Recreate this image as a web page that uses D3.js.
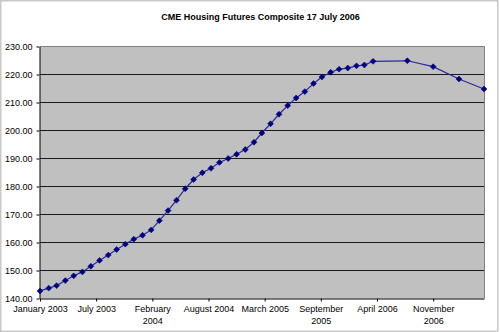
<!DOCTYPE html>
<html>
<head>
<meta charset="utf-8">
<script src="https://cdn.jsdelivr.net/npm/d3@7"></script>
<style>
  html, body { margin: 0; padding: 0; background: #fff; }
  svg { display: block; }
  text { font-family: "Liberation Sans", Arial, sans-serif; fill: #000; }
</style>
</head>
<body>
<svg id="chart" width="500" height="332"></svg>
<script>
// Composite index: monthly history, then quarterly futures settlements
const months = [
  "2003-01","2003-02","2003-03","2003-04","2003-05","2003-06","2003-07","2003-08","2003-09","2003-10","2003-11","2003-12",
  "2004-01","2004-02","2004-03","2004-04","2004-05","2004-06","2004-07","2004-08","2004-09","2004-10","2004-11","2004-12",
  "2005-01","2005-02","2005-03","2005-04","2005-05","2005-06","2005-07","2005-08","2005-09","2005-10","2005-11","2005-12",
  "2006-01","2006-02","2006-03","2006-04",
  "2006-08","2006-11","2007-02","2007-05"
];
const values = [
  142.7, 143.7, 144.6, 146.4, 148.1, 149.5, 151.5, 153.6, 155.5, 157.5, 159.4, 161.2,
  162.6, 164.5, 167.8, 171.4, 175.1, 179.2, 182.5, 184.9, 186.5, 188.6, 190.0, 191.5,
  193.2, 195.8, 199.1, 202.4, 205.8, 208.9, 211.6, 213.9, 216.8, 219.1, 220.8, 221.9,
  222.3, 223.1, 223.4, 224.7,
  224.9, 222.8, 218.4, 214.8
];
const yTicks = [140, 150, 160, 170, 180, 190, 200, 210, 220, 230];
const xTickLabels = [
  "January 2003", "July 2003", "February 2004", "August 2004",
  "March 2005", "September 2005", "April 2006", "November 2006"
];
const title = "CME Housing Futures Composite 17 July 2006";

const W = 500, H = 332;
const plot = { left: 40, right: 484, top: 46.5, bottom: 298.5 };

const parseMonth = d3.utcParse("%Y-%m");
const data = months.map((m, i) => ({ date: parseMonth(m), value: values[i] }));

const startDate = data[0].date;
const endDate = data[data.length - 1].date;

const x = d3.scaleUtc().domain([startDate, endDate]).range([plot.left, plot.right]);
const y = d3.scaleLinear().domain([140, 230]).range([plot.bottom, plot.top]);

// date axis: major unit of 200 days from the first date
const xTickDates = xTickLabels.map((_, i) => d3.utcDay.offset(startDate, 200 * i));

const svg = d3.select("#chart");

// chart area frame
svg.append("rect")
  .attr("x", 0.75).attr("y", 0.75)
  .attr("width", W - 3).attr("height", H - 1.5)
  .attr("fill", "#fff")
  .attr("stroke", "#c8c8c8")
  .attr("stroke-width", 1.5);

// title
svg.append("text")
  .attr("x", 260.5).attr("y", 19.5)
  .attr("text-anchor", "middle")
  .style("font-size", "9px")
  .style("font-weight", "bold")
  .text(title);

// plot area
svg.append("rect")
  .attr("x", plot.left).attr("y", plot.top)
  .attr("width", plot.right - plot.left)
  .attr("height", plot.bottom - plot.top)
  .attr("fill", "#c0c0c0");

// horizontal gridlines
svg.append("g")
  .selectAll("line")
  .data(yTicks.filter(t => t !== 140 && t !== 230))
  .join("line")
  .attr("x1", plot.left).attr("x2", plot.right)
  .attr("y1", d => y(d)).attr("y2", d => y(d))
  .attr("stroke", "#1a1a1a")
  .attr("stroke-width", 1);

// plot border (top and right)
svg.append("path")
  .attr("d", `M${plot.left},${plot.top}H${plot.right + 0.5}V${plot.bottom}`)
  .attr("fill", "none")
  .attr("stroke", "#808080")
  .attr("stroke-width", 1);

// y axis
const yAxis = d3.axisLeft(y)
  .tickValues(yTicks)
  .tickFormat(d3.format(".2f"))
  .tickSizeInner(3)
  .tickSizeOuter(0)
  .tickPadding(4);

const gy = svg.append("g")
  .attr("transform", `translate(${plot.left - 0.5},0)`)
  .call(yAxis);
gy.select(".domain").attr("stroke", "#000");
gy.selectAll(".tick line").attr("stroke", "#000");
gy.selectAll(".tick text")
  .style("font-size", "9px")
  .style("font-family", "'Liberation Sans', Arial, sans-serif");

// x axis
const xAxis = d3.axisBottom(x)
  .tickValues(xTickDates)
  .tickFormat((d, i) => xTickLabels[i])
  .tickSizeInner(3)
  .tickSizeOuter(0)
  .tickPadding(4);

const gx = svg.append("g")
  .attr("transform", `translate(0,${plot.bottom})`)
  .call(xAxis);
gx.select(".domain").attr("stroke", "#000");
gx.selectAll(".tick line").attr("stroke", "#000");

const tickGap = x(xTickDates[1]) - x(xTickDates[0]);
gx.selectAll(".tick text")
  .style("font-size", "9px")
  .style("font-family", "'Liberation Sans', Arial, sans-serif")
  .each(function (d, i) {
    const t = d3.select(this);
    const full = xTickLabels[i];
    if (this.getComputedTextLength() > tickGap) {
      const words = full.split(" ");
      const dy = t.attr("dy");
      t.text(null);
      t.append("tspan").attr("x", 0).attr("dy", dy).text(words.slice(0, -1).join(" "));
      t.append("tspan").attr("x", 0).attr("dy", "1.35em").text(words[words.length - 1]);
    }
  });

// series line
const line = d3.line()
  .x(d => x(d.date))
  .y(d => y(d.value));

svg.append("path")
  .datum(data)
  .attr("d", line)
  .attr("fill", "none")
  .attr("stroke", "#2a2a9a")
  .attr("stroke-width", 1.2);

// diamond markers
const diamond = d3.symbol().type(d3.symbolDiamond2).size(22);
svg.append("g")
  .selectAll("path")
  .data(data)
  .join("path")
  .attr("transform", d => `translate(${x(d.date)},${y(d.value)})`)
  .attr("d", diamond)
  .attr("fill", "#000080")
  .attr("stroke", "#000080")
  .attr("stroke-width", 0.6);
</script>
</body>
</html>
